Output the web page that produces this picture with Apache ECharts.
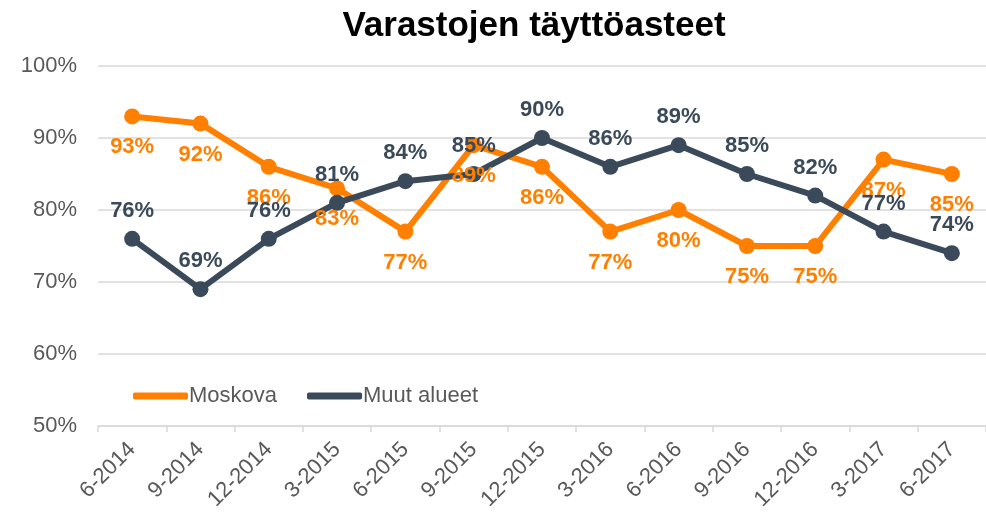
<!DOCTYPE html>
<html><head><meta charset="utf-8">
<script src="https://cdn.jsdelivr.net/npm/echarts@6/dist/echarts.min.js"></script>
<style>html,body{margin:0;padding:0;background:#fff}#c{width:986px;height:513px}</style>
</head><body><div id="c"></div>
<script>
const categories = ['6-2014','9-2014','12-2014','3-2015','6-2015','9-2015','12-2015','3-2016','6-2016','9-2016','12-2016','3-2017','6-2017'];
const moskova = [93,92,86,83,77,89,86,77,80,75,75,87,85];
const muut = [76,69,76,81,84,85,90,86,89,85,82,77,74];
const yTicks = [50,60,70,80,90,100];

const ORANGE = '#FF8000', DARK = '#3B4A5A', GRAY = '#595959';
const FONT = 'Liberation Sans, Arial';
const chart = echarts.init(document.getElementById('c'));
function series(name, data, color, pos, dist) {
  return {
    name, type: 'line', data,
    lineStyle: {width: 6, color},
    itemStyle: {color},
    symbol: 'circle', symbolSize: 16,
    label: {show: true, position: pos, distance: dist, formatter: '{c}%', color,
      fontFamily: FONT, fontWeight: 'bold', fontSize: 22},
    emphasis: {disabled: true}
  };
}
chart.setOption({
  animation: false,
  title: {text: 'Varastojen täyttöasteet', left: 529, top: 4, textAlign: 'center',
    textStyle: {fontFamily: FONT, fontWeight: 'bold', fontSize: 35, color: '#000'}},
  legend: {left: 128, top: 380, itemWidth: 55, itemHeight: 7, itemGap: 30, icon: 'roundRect',
    textStyle: {fontFamily: FONT, fontSize: 22, color: GRAY, padding: [0,0,0,-4]},
    data: ['Moskova','Muut alueet']},
  grid: {left: 98, right: -1, top: 66, bottom: 85, containLabel: false},
  xAxis: {type: 'category', data: categories, boundaryGap: true,
    axisLine: {lineStyle: {color: '#D9D9D9', width: 1.5}},
    axisTick: {show: true, length: 6, lineStyle: {color: '#D9D9D9', width: 1.5}},
    axisLabel: {rotate: 45, color: GRAY, fontFamily: FONT, fontSize: 22, margin: 20, interval: 0}},
  yAxis: {type: 'value', min: yTicks[0], max: yTicks[yTicks.length-1], interval: 10,
    axisLine: {show: false}, axisTick: {show: false},
    axisLabel: {formatter: '{value}%', color: GRAY, fontFamily: FONT, fontSize: 22, margin: 21},
    splitLine: {lineStyle: {color: '#D9D9D9', width: 1.5}}},
  series: [series('Moskova', moskova, ORANGE, 'bottom', 12), series('Muut alueet', muut, DARK, 'top', 9)]
});
</script></body></html>
